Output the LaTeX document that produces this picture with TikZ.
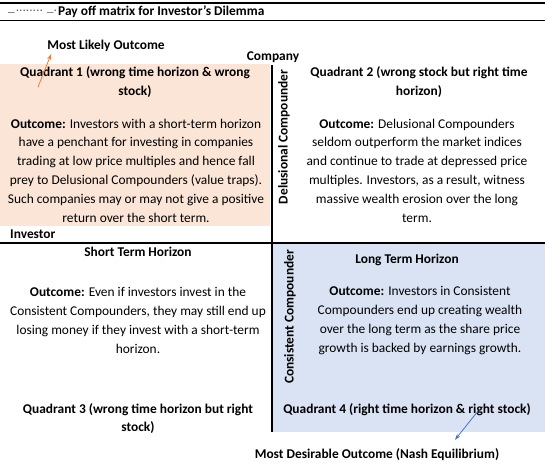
\documentclass[tikz,border=0pt]{standalone}
\usepackage{fontspec}
\setmainfont{Carlito}
\usetikzlibrary{arrows.meta}
\definecolor{qorange}{RGB}{251,229,214}
\definecolor{qblue}{RGB}{218,227,243}
\definecolor{aorange}{RGB}{237,125,49}
\definecolor{ablue}{RGB}{68,114,196}
\tikzset{
  txt/.style={align=center, inner sep=0pt, font=\fontsize{13.4}{18.8}\selectfont},
  btxt/.style={txt, font=\fontsize{13.4}{18.8}\selectfont\bfseries},
  rule/.style={line width=1.1pt, black},
  pointer/.style={line width=0.8pt, -{Stealth[length=6pt,width=4pt]}}
}
\begin{document}
\begin{tikzpicture}[x=1pt,y=-1pt]
\useasboundingbox (0,0) rectangle (545,475);
% fills
\fill[qorange] (0,64) rectangle (270,226);
\fill[qblue] (272,243) rectangle (545,432);
% title rules
\draw[rule] (0,3) -- (545,3);
\draw[rule] (0,20.5) -- (545,20.5);
\node[txt, anchor=west, text=black!60] (dots) at (8,12) {\_\kern1pt........ \_.};
\node[btxt, anchor=west] (title) at (58,12) {Pay off matrix for Investor’s Dilemma};
% grid rules
\coordinate (vtop) at (272,65);
\coordinate (vbot) at (272,432);
\coordinate (hl) at (0,243);
\coordinate (hr) at (545,243);
\draw[rule] (vtop) -- (vbot);
\draw[rule] (hl) -- (hr);
% labels
\node[btxt] (mlo) at (106,46) {Most Likely Outcome};
\node[btxt] (company) at (273,57) {Company};
\node[btxt, anchor=west] (investor) at (10,234.5) {Investor};
\node[btxt, rotate=90] (delu) at (284,137) {Delusional Compounder};
\node[btxt, rotate=90] (cons) at (290,317) {Consistent Compounder};
% quadrant 1
\node[btxt] (q1t) at (135,82) {Quadrant 1 (wrong time horizon \& wrong\\stock)};
\node[txt] (q1b) at (136,170.5) {\textbf{Outcome:} Investors with a short-term horizon\\have a penchant for investing in companies\\trading at low price multiples and hence fall\\prey to Delusional Compounders (value traps).\\Such companies may or may not give a positive\\return over the short term.};
% quadrant 2
\node[btxt] (q2t) at (419,82) {Quadrant 2 (wrong stock but right time\\horizon)};
\node[txt] (q2b) at (417,170.5) {\textbf{Outcome:} Delusional Compounders\\seldom outperform the market indices\\and continue to trade at depressed price\\multiples. Investors, as a result, witness\\massive wealth erosion over the long\\term.};
% quadrant 3
\node[btxt] (q3h) at (138,252) {Short Term Horizon};
\node[txt] (q3b) at (138,320.5) {\textbf{Outcome:} Even if investors invest in the\\Consistent Compounders, they may still end up\\losing money if they invest with a short-term\\horizon.};
\node[btxt] (q3t) at (138,418.5) {Quadrant 3 (wrong time horizon but right\\stock)};
% quadrant 4
\node[btxt] (q4h) at (407,260) {Long Term Horizon};
\node[txt] (q4b) at (420,320.5) {\textbf{Outcome:} Investors in Consistent\\Compounders end up creating wealth\\over the long term as the share price\\growth is backed by earnings growth.};
\node[btxt] (q4t) at (407,410) {Quadrant 4 (right time horizon \& right stock)};
\node[btxt] (mdo) at (377,455) {Most Desirable Outcome (Nash Equilibrium)};
% pointers
\coordinate (oa) at (38,87);
\coordinate (ba) at (478,411);
\draw[pointer, aorange] (oa) -- ([xshift=4pt,yshift=-2pt]mlo.south west);
\draw[pointer, ablue] (ba) -- ([xshift=78pt,yshift=9pt]mdo.north);
\end{tikzpicture}
\end{document}
